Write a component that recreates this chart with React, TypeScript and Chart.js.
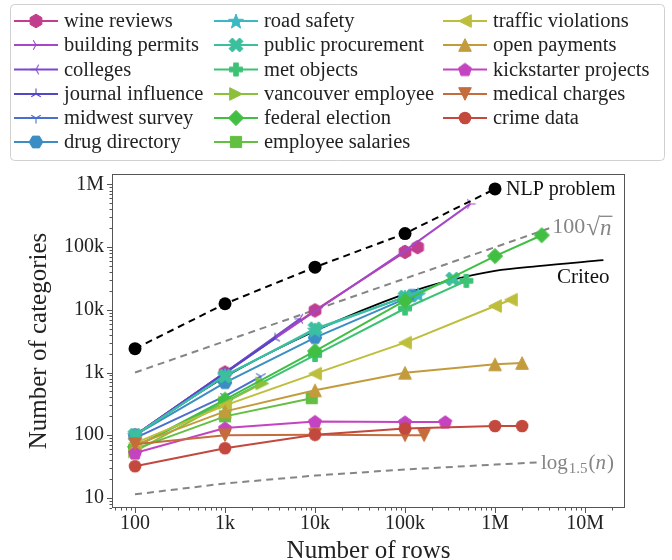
import React, { useEffect, useRef } from 'react';
import { Chart, registerables } from 'chart.js';

Chart.register(...registerables);

const FONT = '"Liberation Serif", "Times New Roman", serif';

// ---- series names (legend order) ----
const seriesNames = [
  'wine reviews', 'building permits', 'colleges', 'journal influence', 'midwest survey', 'drug directory',
  'road safety', 'public procurement', 'met objects', 'vancouver employee', 'federal election', 'employee salaries',
  'traffic violations', 'open payments', 'kickstarter projects', 'medical charges', 'crime data',
];

// ---- data: number of rows (x) and number of categories (y) ----
const wineRows = [100, 1000, 10000, 100000, 138000];
const wineCats = [100, 1000, 9800, 84000, 100000];
const permitsRows = [100, 1000, 10000, 100000, 530000];
const permitsCats = [100, 1000, 9500, 88000, 490000];
const collegesRows = [100, 1000, 6800];
const collegesCats = [100, 1000, 7200];
const journalRows = [100, 1000, 3600];
const journalCats = [100, 980, 3500];
const midwestRows = [100, 1000, 2500];
const midwestCats = [90, 420, 870];
const drugRows = [100, 1000, 10000, 100000, 120000];
const drugCats = [100, 690, 3600, 15000, 17000];
const roadRows = [100, 1000, 10000, 100000, 140000];
const roadCats = [100, 900, 4800, 16000, 17500];
const procurementRows = [100, 1000, 10000, 100000, 340000];
const procurementCats = [100, 880, 5000, 16000, 31000];
const metRows = [100, 1000, 10000, 100000, 480000];
const metCats = [65, 340, 1900, 10500, 29000];
const vancouverRows = [100, 1000, 2600];
const vancouverCats = [55, 330, 670];
const electionRows = [100, 1000, 10000, 100000, 1000000, 3300000];
const electionCats = [65, 370, 2200, 14000, 72000, 155000];
const salariesRows = [100, 1000, 9200];
const salariesCats = [60, 200, 390];
const trafficRows = [100, 1000, 10000, 100000, 1000000, 1500000];
const trafficCats = [75, 300, 960, 3000, 11500, 14500];
const paymentsRows = [100, 1000, 10000, 100000, 1000000, 2000000];
const paymentsCats = [70, 240, 520, 990, 1350, 1420];
const kickstarterRows = [100, 1000, 10000, 100000, 280000];
const kickstarterCats = [52, 130, 165, 162, 163];
const medicalRows = [100, 1000, 10000, 100000, 163000];
const medicalCats = [72, 100, 102, 100, 100];
const crimeRows = [100, 1000, 10000, 100000, 1000000, 2000000];
const crimeCats = [32, 62, 102, 128, 140, 140];

// reference curves
const nlpRows = [100, 1000, 10000, 100000, 1000000];
const nlpCats = [2400, 12500, 48000, 165000, 850000];
const criteoRows = [100, 1000, 10000, 100000, 300000, 1000000, 3000000, 16000000];
const criteoCats = [100, 850, 4600, 18000, 29000, 42000, 50000, 62000];
const sqrtRows = [100, 4000000];
const sqrtCats = [1000, 200000];
const logRows = [100, 1000, 10000, 100000, 1000000, 3000000];
const logCats = [11.4, 17, 22.7, 28.4, 34, 36.8];

// axis ticks
const xTicks = [100, 1000, 10000, 100000, 1000000, 10000000];
const yTicks = [10, 100, 1000, 10000, 100000, 1000000];

const seriesRows = [wineRows, permitsRows, collegesRows, journalRows, midwestRows, drugRows, roadRows,
  procurementRows, metRows, vancouverRows, electionRows, salariesRows, trafficRows, paymentsRows,
  kickstarterRows, medicalRows, crimeRows];
const seriesCats = [wineCats, permitsCats, collegesCats, journalCats, midwestCats, drugCats, roadCats,
  procurementCats, metCats, vancouverCats, electionCats, salariesCats, trafficCats, paymentsCats,
  kickstarterCats, medicalCats, crimeCats];

// ---- styles ----
const seriesColors = [
  '#c23d8c', '#a547c8', '#7d49cb', '#5248c6', '#4b6fcf', '#3b8dc3',
  '#3bb8c4', '#3cbf9c', '#3cc274', '#8cc03b', '#41bf43', '#62bf41',
  '#bdbe3b', '#c39b3c', '#c443c1', '#c46c3c', '#c3483e',
];
const seriesMarkers = [
  'hexagon', 'triRight', 'triLeft', 'triUp', 'triDown', 'hexagonFlat',
  'star', 'xFill', 'plusFill', 'triangleRight', 'diamond', 'square',
  'triangleLeft', 'triangleUp', 'pentagon', 'triangleDown', 'circle',
];

function makeMarker(shape: string, color: string): HTMLCanvasElement {
  const S = 20;
  const c = document.createElement('canvas');
  c.width = S;
  c.height = S;
  const g = c.getContext('2d')!;
  g.translate(S / 2, S / 2);
  g.fillStyle = color;
  g.strokeStyle = color;
  g.lineWidth = 1;
  g.lineJoin = 'miter';
  const poly = (pts: number[][]) => {
    g.beginPath();
    pts.forEach(([x, y], i) => (i ? g.lineTo(x, y) : g.moveTo(x, y)));
    g.closePath();
    g.fill();
    g.stroke();
  };
  const reg = (n: number, r: number, rot: number) =>
    Array.from({ length: n }, (_, i) => {
      const a = rot + (i * 2 * Math.PI) / n;
      return [r * Math.sin(a), -r * Math.cos(a)];
    });
  const plus = (R: number, w: number, rot: number) => {
    const base = [[-w, -R], [w, -R], [w, -w], [R, -w], [R, w], [w, w], [w, R], [-w, R], [-w, w], [-R, w], [-R, -w], [-w, -w]];
    const ca = Math.cos(rot), sa = Math.sin(rot);
    return base.map(([x, y]) => [x * ca - y * sa, x * sa + y * ca]);
  };
  const tri = (angles: number[]) => {
    g.lineWidth = 1.1;
    g.beginPath();
    angles.forEach((a) => {
      const r = (a * Math.PI) / 180;
      g.moveTo(0, 0);
      g.lineTo(5.5 * Math.cos(r), 5.5 * Math.sin(r));
    });
    g.stroke();
  };
  const t = 6.3;
  switch (shape) {
    case 'circle':
      g.beginPath();
      g.arc(0, 0, 6.3, 0, Math.PI * 2);
      g.fill();
      break;
    case 'hexagon':
      poly(reg(6, 6.8, 0));
      break;
    case 'hexagonFlat':
      poly(reg(6, 6.8, Math.PI / 6));
      break;
    case 'pentagon':
      poly(reg(5, 6.8, 0).map(([x, y]) => [x, y + 0.6]));
      break;
    case 'star': {
      const pts: number[][] = [];
      for (let i = 0; i < 10; i++) {
        const r = i % 2 ? 3.2 : 7.8;
        const a = (i * Math.PI) / 5;
        pts.push([r * Math.sin(a), -r * Math.cos(a) + 0.8]);
      }
      poly(pts);
      break;
    }
    case 'xFill':
      poly(plus(7.5, 2.4, Math.PI / 4));
      break;
    case 'plusFill':
      poly(plus(6.5, 2.3, 0));
      break;
    case 'diamond':
      poly([[0, -7.6], [7.6, 0], [0, 7.6], [-7.6, 0]]);
      break;
    case 'square':
      poly([[-5.6, -5.6], [5.6, -5.6], [5.6, 5.6], [-5.6, 5.6]]);
      break;
    case 'triangleUp':
      poly([[0, -t], [t, t], [-t, t]]);
      break;
    case 'triangleDown':
      poly([[0, t], [t, -t], [-t, -t]]);
      break;
    case 'triangleLeft':
      poly([[-t, 0], [t, -t], [t, t]]);
      break;
    case 'triangleRight':
      poly([[t, 0], [-t, -t], [-t, t]]);
      break;
    case 'triRight':
      tri([0, 120, 240]);
      break;
    case 'triLeft':
      tri([180, 60, 300]);
      break;
    case 'triUp':
      tri([270, 30, 150]);
      break;
    case 'triDown':
      tri([90, 210, 330]);
      break;
  }
  return c;
}

const fmt = (v: number) => {
  if (v >= 1e6) return v / 1e6 + 'M';
  if (v >= 1e3) return v / 1e3 + 'k';
  return String(v);
};

const toPts = (rows: number[], cats: number[]) => rows.map((x, i) => ({ x, y: cats[i] }));

export default function App() {
  const ref = useRef<HTMLCanvasElement>(null);

  useEffect(() => {
    const canvas = ref.current!;
    const markerImgs = seriesNames.map((_, i) => makeMarker(seriesMarkers[i], seriesColors[i]));

    const datasets: any[] = [];
    datasets.push({
      label: '100√n', data: toPts(sqrtRows, sqrtCats), borderColor: '#858585', borderWidth: 2,
      borderDash: [7, 5], pointRadius: 0,
    });
    datasets.push({
      label: 'log1.5(n)', data: toPts(logRows, logCats), borderColor: '#858585', borderWidth: 2,
      borderDash: [7, 5], pointRadius: 0,
    });
    datasets.push({
      label: 'Criteo', data: toPts(criteoRows, criteoCats), borderColor: '#000000', borderWidth: 1.8,
      pointRadius: 0, cubicInterpolationMode: 'monotone',
    });
    seriesNames.forEach((name, i) => {
      datasets.push({
        label: name, data: toPts(seriesRows[i], seriesCats[i]), borderColor: seriesColors[i],
        backgroundColor: seriesColors[i], borderWidth: 2, pointStyle: markerImgs[i], pointRadius: 7,
      });
    });
    datasets.push({
      label: 'NLP problem', data: toPts(nlpRows, nlpCats), borderColor: '#000000', backgroundColor: '#000000',
      borderWidth: 2, borderDash: [7, 5], pointStyle: 'circle', pointRadius: 6.5, pointBorderWidth: 0,
    });
    const N = datasets.length;
    datasets.forEach((d, i) => { d.order = N - i; d.tension = d.tension ?? 0; });

    const framePlugin = {
      id: 'frameTicks',
      afterDraw(chart: any) {
        const { ctx, chartArea: a, scales } = chart;
        ctx.save();
        ctx.strokeStyle = '#555555';
        ctx.lineWidth = 1;
        ctx.strokeRect(a.left + 0.5, a.top + 0.5, a.right - a.left - 1, a.bottom - a.top - 1);
        const xs = scales.x, ys = scales.y;
        ctx.beginPath();
        for (let d = 10; d <= 1e8; d *= 10) {
          for (let m = 1; m < 10; m++) {
            const v = d * m;
            const len = m === 1 ? 5 : 2.5;
            if (v >= xs.min && v <= xs.max) {
              const px = Math.round(xs.getPixelForValue(v)) + 0.5;
              ctx.moveTo(px, a.bottom);
              ctx.lineTo(px, a.bottom + len);
            }
          }
        }
        for (let d = 1; d <= 1e7; d *= 10) {
          for (let m = 1; m < 10; m++) {
            const v = d * m;
            const len = m === 1 ? 5 : 2.5;
            if (v >= ys.min && v <= ys.max) {
              const py = Math.round(ys.getPixelForValue(v)) + 0.5;
              ctx.moveTo(a.left, py);
              ctx.lineTo(a.left - len, py);
            }
          }
        }
        ctx.stroke();

        // annotations
        ctx.textBaseline = 'middle';
        ctx.textAlign = 'left';
        const nx = xs.getPixelForValue(nlpRows[nlpRows.length - 1]);
        const ny = ys.getPixelForValue(nlpCats[nlpCats.length - 1]);
        ctx.fillStyle = '#111';
        ctx.font = `20px ${FONT}`;
        ctx.fillText('NLP problem', nx + 11, ny + 1);

        // Criteo label
        const cx = xs.getPixelForValue(3000000);
        const cy = ys.getPixelForValue(33000);
        ctx.font = `21px ${FONT}`;
        ctx.fillText('Criteo', cx + 19, cy);

        // 100 sqrt(n)
        ctx.fillStyle = '#858585';
        const sx = xs.getPixelForValue(sqrtRows[1]) + 3;
        const sy = ys.getPixelForValue(sqrtCats[1]) - 1;
        ctx.font = `22px ${FONT}`;
        ctx.fillText('100', sx, sy);
        const w = ctx.measureText('100').width + 1;
        ctx.font = `25px ${FONT}`;
        ctx.fillText('√', sx + w, sy + 1);
        const rw = ctx.measureText('√').width;
        ctx.font = `italic 23px ${FONT}`;
        const nw = ctx.measureText('n').width;
        ctx.fillText('n', sx + w + rw, sy + 2);
        ctx.strokeStyle = '#858585';
        ctx.lineWidth = 1.3;
        ctx.beginPath();
        ctx.moveTo(sx + w + rw - 0.5, sy - 11);
        ctx.lineTo(sx + w + rw + nw + 1, sy - 11);
        ctx.stroke();

        // log_1.5(n)
        const lx = xs.getPixelForValue(logRows[logRows.length - 1]) + 3;
        const ly = ys.getPixelForValue(logCats[logCats.length - 1]) + 1;
        ctx.font = `21px ${FONT}`;
        ctx.fillText('log', lx, ly);
        let off = ctx.measureText('log').width;
        ctx.font = `15px ${FONT}`;
        ctx.fillText('1.5', lx + off + 1, ly + 6);
        off += ctx.measureText('1.5').width + 2;
        ctx.font = `21px ${FONT}`;
        ctx.fillText('(', lx + off, ly);
        off += ctx.measureText('(').width;
        ctx.font = `italic 21px ${FONT}`;
        ctx.fillText('n', lx + off, ly);
        off += ctx.measureText('n').width + 1;
        ctx.font = `21px ${FONT}`;
        ctx.fillText(')', lx + off, ly);
        ctx.restore();
      },
    };

    const legendPlugin = {
      id: 'customLegend',
      afterDraw(chart: any) {
        const ctx = chart.ctx;
        ctx.save();
        const bx = 10.5, by = 4.5, bw = 654, bh = 156, r = 4;
        ctx.beginPath();
        ctx.moveTo(bx + r, by);
        ctx.arcTo(bx + bw, by, bx + bw, by + bh, r);
        ctx.arcTo(bx + bw, by + bh, bx, by + bh, r);
        ctx.arcTo(bx, by + bh, bx, by, r);
        ctx.arcTo(bx, by, bx + bw, by, r);
        ctx.closePath();
        ctx.fillStyle = '#ffffff';
        ctx.fill();
        ctx.strokeStyle = '#d0d0d0';
        ctx.lineWidth = 1;
        ctx.stroke();
        const colX = [14, 214, 443];
        const rowY = [21, 45, 69.5, 94, 118, 142];
        ctx.font = `20.5px ${FONT}`;
        ctx.textBaseline = 'middle';
        ctx.textAlign = 'left';
        seriesNames.forEach((name, i) => {
          const col = Math.floor(i / 6), row = i % 6;
          const x0 = colX[col], y = rowY[row];
          ctx.strokeStyle = seriesColors[i];
          ctx.lineWidth = 2;
          ctx.beginPath();
          ctx.moveTo(x0, y);
          ctx.lineTo(x0 + 44, y);
          ctx.stroke();
          const img = markerImgs[i];
          ctx.drawImage(img, x0 + 22 - img.width / 2, y - img.height / 2);
          ctx.fillStyle = '#222222';
          ctx.fillText(name, x0 + 50, y + 1);
        });
        ctx.restore();
      },
    };

    const chart = new Chart(canvas, {
      type: 'line',
      data: { datasets },
      options: {
        animation: false,
        responsive: false,
        devicePixelRatio: 1,
        layout: { padding: { top: 174, right: 47, left: 0, bottom: 0 } },
        plugins: { legend: { display: false }, tooltip: { enabled: false } },
        elements: { line: { tension: 0 } },
        scales: {
          x: {
            type: 'logarithmic',
            min: 55.5,
            max: 27800000,
            afterBuildTicks: (s: any) => { s.ticks = xTicks.map((value) => ({ value })); },
            afterFit: (s: any) => { s.height = 52; },
            ticks: {
              callback: (v: any) => fmt(Number(v)),
              font: { family: FONT, size: 20 },
              color: '#222222',
              padding: 4,
              maxRotation: 0,
              autoSkip: false,
            },
            grid: { display: false, drawTicks: false },
            border: { display: false },
            title: {
              display: true,
              text: 'Number of rows',
              font: { family: FONT, size: 25 },
              color: '#222222',
              padding: { top: 0, bottom: -6 },
            },
          },
          y: {
            type: 'logarithmic',
            min: 6.9,
            max: 1470000,
            afterBuildTicks: (s: any) => { s.ticks = yTicks.map((value) => ({ value })); },
            afterFit: (s: any) => { s.width = 112; },
            ticks: {
              callback: (v: any) => fmt(Number(v)),
              font: { family: FONT, size: 20 },
              color: '#222222',
              padding: 8,
              autoSkip: false,
            },
            grid: { display: false, drawTicks: false },
            border: { display: false },
            title: {
              display: true,
              text: 'Number of categories',
              font: { family: FONT, size: 25 },
              color: '#222222',
              padding: { top: 24, bottom: 0 },
            },
          },
        },
      },
      plugins: [framePlugin, legendPlugin],
    } as any);
    return () => chart.destroy();
  }, []);

  return (
    <div style={{ position: 'fixed', left: 0, top: 0, width: 672, height: 560, background: '#fff' }}>
      <canvas ref={ref} width={672} height={560} style={{ width: 672, height: 560, display: 'block' }} />
    </div>
  );
}
